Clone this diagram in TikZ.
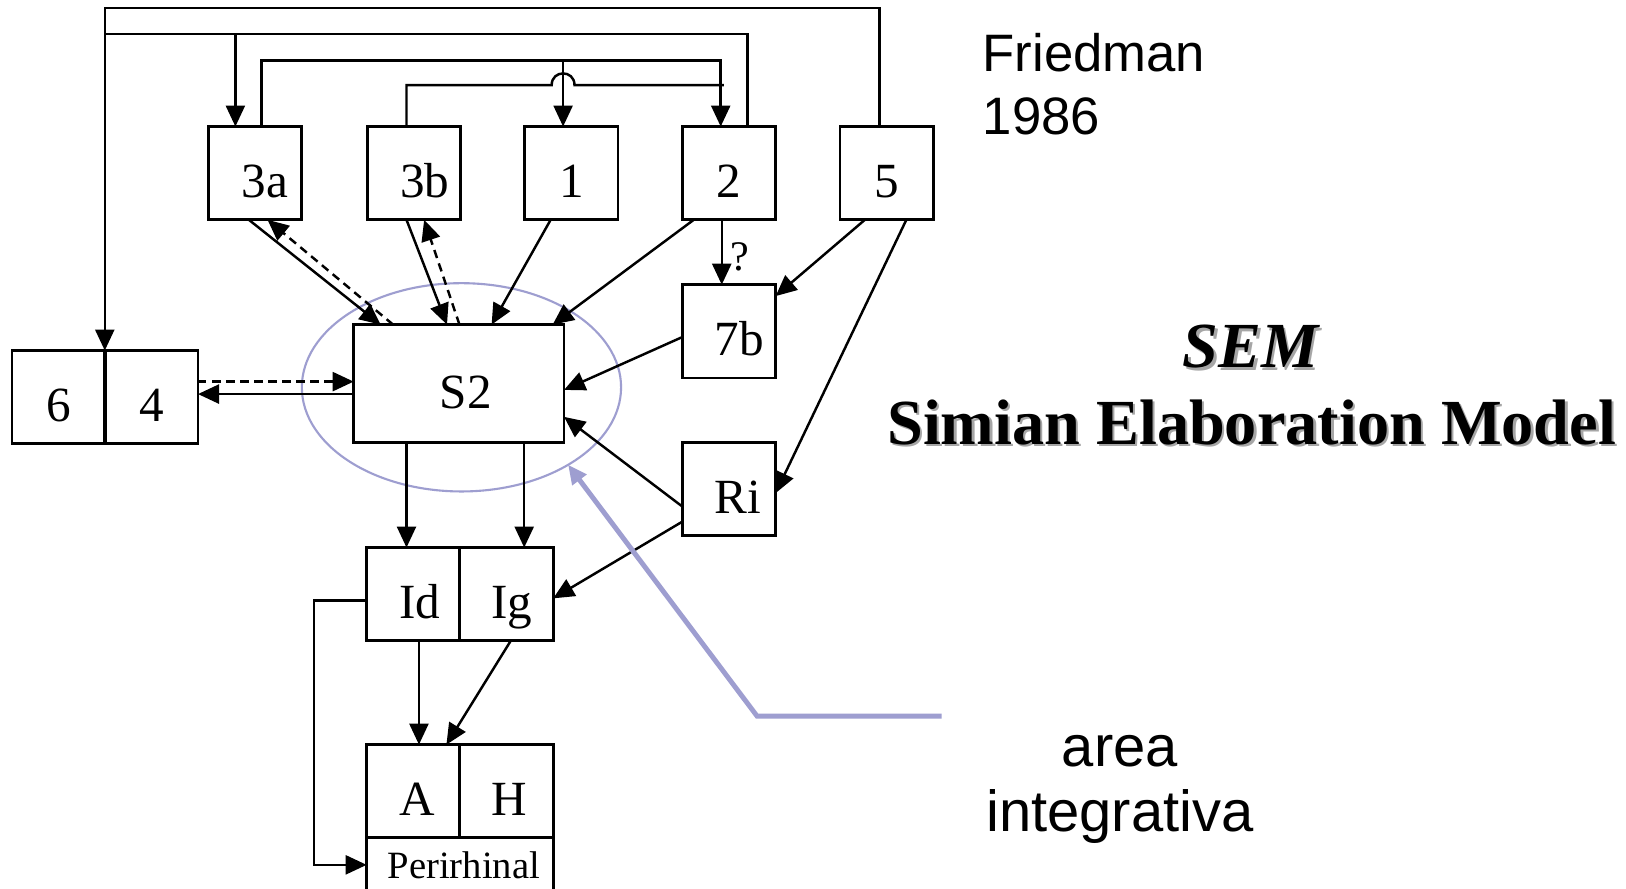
\documentclass[tikz,border=0pt]{standalone}
\usepackage{fontspec}
\setmainfont{Liberation Serif}
\newfontfamily\arialfont{Liberation Sans}
\usepackage{xcolor}
\usetikzlibrary{arrows.meta,calc,shapes.geometric}

\definecolor{lavblue}{RGB}{158,158,208}
\newcommand{\shad}[1]{\rlap{\kern0.7pt\raisebox{-0.7pt}{\textcolor{black!35}{#1}}}#1}

\begin{document}
\begin{tikzpicture}[
  x=0.01037cm, y=-0.01037cm,
  blk/.style={draw, line width=0.8pt, inner sep=0pt, outer sep=0pt,
    minimum width=0.933cm, minimum height=0.933cm,
    text height=14pt, text depth=0pt, font=\fontsize{14}{16}\selectfont},
  arr/.style={-{Triangle[length=0.21cm,width=0.19cm]}, line width=0.7pt},
  darr/.style={arr, dash pattern=on 2.4pt off 1.6pt},
  ring/.style={draw=lavblue, line width=0.6pt, inner sep=0pt, outer sep=0pt},
  pointer/.style={draw=lavblue, line width=1.4pt,
    -{Triangle[length=0.19cm,width=0.17cm]}}
]
\path[use as bounding box, fill=white] (0,0) rectangle (1568,857);
\clip (0,0) rectangle (1568,857);

% integrative area round S2
\node[ring, ellipse, minimum width=3.194cm, minimum height=2.084cm] (zone) at (445,373.5) {};

% top row
\node[blk] (a3) at (246,167) {\hspace*{2mm}3a};
\node[blk] (b3) at (399,167) {\hspace*{2.2mm}3b};
\node[blk] (n1) at (551,167) {1};
\node[blk] (n2) at (703,167) {2};
\node[blk] (n5) at (855,167) {5};

\node[blk] (b7) at (703,319.5) {\hspace*{2mm}7b};
\node[blk] (ri) at (703,471.5) {\hspace*{1.8mm}Ri};
\node[blk, minimum width=2.105cm, minimum height=1.182cm] (s2) at (442.5,370) {\hspace*{1.4mm}S2};

\node[blk] (c6) at (56.5,383) {6};
\node[blk] (c4) at (146,383) {4};

\node[blk] (id) at (398.5,573) {\hspace*{1.3mm}Id};
\node[blk] (ig) at (488.5,573) {\hspace*{1.1mm}Ig};
\node[blk] (am) at (398.5,763) {\hspace*{0.9mm}A};
\node[blk] (hp) at (488.5,763) {\hspace*{0.5mm}H};
\node[blk, minimum width=1.866cm, minimum height=0.54cm, text height=7.5pt,
  font=\fontsize{11}{13}\selectfont] (peri) at (443.5,834) {\hspace*{0.8mm}Perirhinal};

% feedback lines along the top
\draw[arr] ($(n5.north)+(-7,0)$) |- ($(c4.north west)+(0,-330.5)$) -- (c4.north west);
\draw[line width=0.7pt] ($(n2.north)+(18,0)$) |- ($(c4.north west)+(0,-305.5)$);
\draw[arr] ($(a3.north)+(-19,-89.5)$) -- ($(a3.north)+(-19,0)$);
\draw[arr] ($(a3.north)+(6,0)$) -- ++(0,-63.5) -| ($(n2.north)+(-8,0)$);
\draw[arr] ($(n1.north)+(-8,-63.5)$) -- ($(n1.north)+(-8,0)$);
\draw[line width=0.7pt] ($(b3.north)+(-7,0)$) -- ++(0,-40) -- ($(n1.north)+(-19,-40)$)
  .. controls +(0,-15) and +(0,-15) .. ++(22,0) -- ($(n2.north)+(-5,-40)$);

% into S2 from the top row
\draw[arr] ($(a3.south)+(-6,0)$) -- ($(s2.north west)+(26,0)$);
\draw[darr] ($(s2.north west)+(38,0)$) -- ($(a3.south)+(12,0)$);
\draw[arr] ($(b3.south)+(-7,0)$) -- ($(s2.north west)+(90,0)$);
\draw[darr] ($(s2.north west)+(102,0)$) -- ($(b3.south)+(10,0)$);
\draw[arr] ($(n1.south)+(-20,0)$) -- ($(s2.north west)+(133,0)$);
\draw[arr] ($(n2.south)+(-34,0)$) -- ($(s2.north east)+(-11,0)$);

% 2 and 5 to 7b, 5 to Ri
\draw[arr] ($(n2.south)+(-7,0)$) -- ($(b7.north)+(-7,0)$);
\node[font=\fontsize{12}{14}\selectfont, inner sep=0pt] (qm) at (713.5,248) {?};
\draw[arr] ($(n5.south)+(-21,0)$) -- ($(b7.north east)+(0,11)$);
\draw[arr] ($(n5.south)+(19,0)$) -- ($(ri.east)+(0,4)$);

% 7b and Ri back to S2, Ri to Ig
\draw[arr] ($(b7.west)+(0,5.5)$) -- ($(s2.east)+(0,6)$);
\draw[arr] ($(ri.west)+(0,17)$) -- ($(s2.east)+(0,32)$);
\draw[arr] ($(ri.west)+(0,31.5)$) -- ($(ig.east)+(0,4)$);

% S2 and 6|4
\draw[arr] ($(s2.west)+(0,10)$) -- ($(c4.east)+(0,-3)$);
\draw[darr] ($(c4.east)+(0,-15)$) -- ($(s2.west)+(0,-2)$);

% down to Id|Ig and A|H
\draw[arr] ($(s2.south)+(-50.5,0)$) -- ($(id.north)+(-6.5,0)$);
\draw[arr] ($(s2.south)+(63,0)$) -- ($(ig.north)+(17,0)$);
\draw[arr] ($(id.south)+(5.5,0)$) -- ($(am.north)+(5.5,0)$);
\draw[arr] ($(ig.south)+(4,0)$) -- ($(am.north)+(32,0)$);
\draw[arr] ($(id.west)+(0,6)$) -- ++(-51,0) |- (peri.west);

% texts on the right
\node[font=\arialfont\fontsize{15}{18}\selectfont, align=left, anchor=north west,
  inner sep=0pt] (cite) at (947,31) {Friedman\\1986};
\node[font=\bfseries\fontsize{18.3}{21.8}\selectfont, align=center, anchor=north,
  inner sep=0pt] (title) at (1207,313) {\textit{\shad{SEM}}\\\shad{Simian Elaboration Model}};
\node[font=\arialfont\fontsize{16.5}{18.6}\selectfont, align=center, anchor=north,
  inner sep=0pt] (note) at (1080,708) {area\\integrativa};

\coordinate (lead) at (908,690.5);
\draw[pointer] (lead) -- ++(-178,0) -- (zone.-36);
\end{tikzpicture}
\end{document}
